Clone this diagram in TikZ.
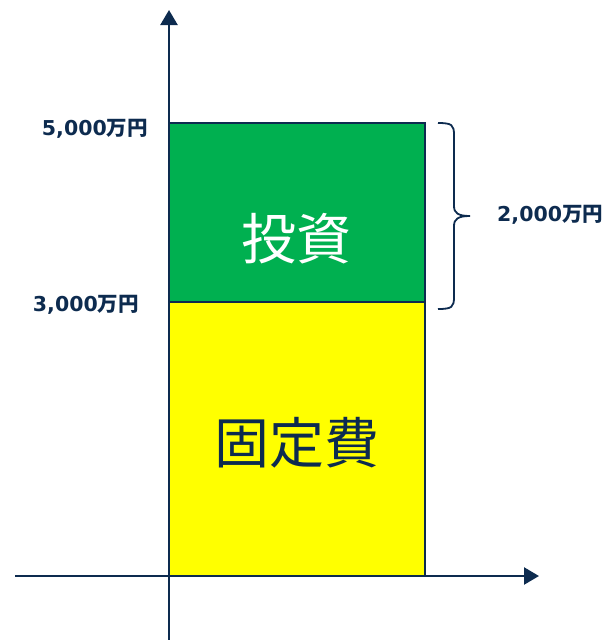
\documentclass[tikz,border=0pt]{standalone}
\usepackage{fontspec}
\newfontfamily\cjk{Noto Sans CJK JP}
\newfontfamily\numfont{DejaVu Sans}
\usetikzlibrary{arrows.meta,positioning}
\definecolor{navy}{HTML}{0D2B4F}
\definecolor{invgreen}{HTML}{00B050}
\definecolor{costyellow}{HTML}{FFFF00}
\tikzset{%
	axis/.style   = {navy, line width=2.4pt, -{Triangle[length=15pt,width=17pt]}},
	block/.style  = {draw=navy, line width=2.4pt},
	amount/.style = {navy, inner sep=0pt, font=\numfont\bfseries\fontsize{20.5}{20.5}\selectfont},
	big/.style    = {inner sep=0pt, font=\cjk\fontsize{55}{55}\selectfont},
	bracket/.style= {navy, line width=1.8pt},
}
\newcommand{\manen}{{\cjk\bfseries 万円}}

\begin{document}
\begin{tikzpicture}[x=1pt,y=-1pt]
	\useasboundingbox (0,0) rectangle (608,640);
	\coordinate (O) at (169,576);
	\coordinate (ytop) at (169,10);
	\coordinate (ybot) at (169,640);
	\coordinate (xleft) at (15,576);
	\coordinate (xright) at (539,576);
	\coordinate (top) at (169,123);
	\coordinate (mid) at (169,302);
	\coordinate (br1) at (438,123);
	\coordinate (brtip) at (470,216);
	\coordinate (br2) at (438,309);
	
	\draw[block,fill=costyellow] (mid) rectangle (425,576);
	\draw[block,fill=invgreen] (top) rectangle (425,302);
	
	\draw[axis] (xleft) -- (xright);
	\draw[axis] (ybot) -- (ytop);
	
	\node[big,white] (inv) at (296,239) {投資};
	\node[big,navy] (fixed) at (297,443) {固定費};
	
	\node[amount,anchor=east] (v5000) at (148,129) {5,000\manen};
	\node[amount,anchor=east] (v3000) at (139,305) {3,000\manen};
	
	% brace
	\draw[bracket] (br1) .. controls (452,123) and (454,125) .. (454,135) -- (454,206)
		.. controls (454,213) and (458,216) .. (brtip)
		.. controls (458,216) and (454,219) .. (454,226) -- (454,297)
		.. controls (454,307) and (452,309) .. (br2);
	\node[amount,anchor=west] (v2000) at (497,215) {2,000\manen};
\end{tikzpicture}
\end{document}
